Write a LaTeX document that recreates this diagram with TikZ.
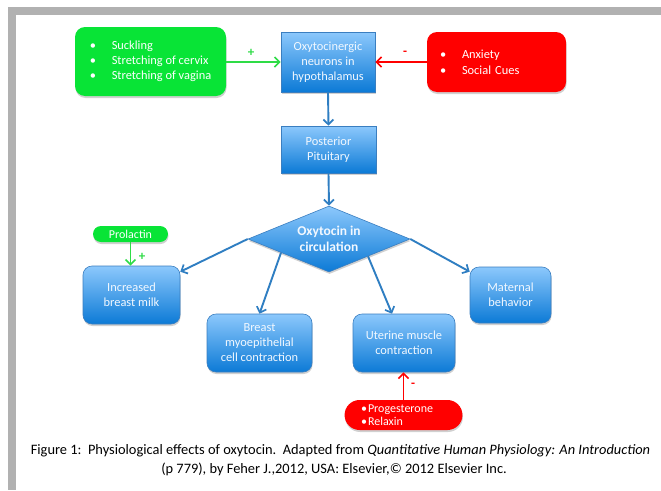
\documentclass[tikz,border=0pt]{standalone}
\usepackage{fontspec}
\setmainfont{Carlito}
\usetikzlibrary{shapes.geometric,shapes.misc,arrows.meta,calc,shadows}
\definecolor{frame}{HTML}{B1B1B1}
\definecolor{bltop}{HTML}{8CC8FC}
\definecolor{blbot}{HTML}{0C7AD6}
\definecolor{bledge}{HTML}{3A7EC0}
\definecolor{arrblue}{HTML}{2F7EC2}
\definecolor{grn}{HTML}{08E436}
\definecolor{grnarr}{HTML}{2EDC46}
\definecolor{rd}{HTML}{FF0000}
\definecolor{boxtxt}{HTML}{F2F8FF}
\tikzset{
  shd/.style={drop shadow={shadow xshift=0.5pt,shadow yshift=-2pt,opacity=0.3,fill=black!60}},
  bluebox/.style={shd,draw=bledge,line width=0.6pt,top color=bltop,bottom color=blbot,text=boxtxt,align=center,inner sep=0pt,font=\fontsize{12.4}{15}\selectfont},
  rbluebox/.style={bluebox,rounded corners=9pt},
  greenbox/.style={shd,fill=grn,rounded corners=10pt,text=white,inner sep=0pt,font=\fontsize{12.4}{15}\selectfont},
  redbox/.style={shd,fill=rd,rounded corners=10pt,text=white,inner sep=0pt,font=\fontsize{12.4}{16}\selectfont},
  pill/.style={shd,rounded rectangle,text=white,inner sep=0pt},
  barr/.style={draw=arrblue,line width=1.9pt,-{Straight Barb[length=5pt,width=10pt,line width=1.7pt]}},
  garr/.style={draw=grnarr,line width=1.9pt,-{Straight Barb[length=5pt,width=10pt,line width=1.7pt]}},
  rarr/.style={draw=rd,line width=1.9pt,-{Straight Barb[length=5pt,width=10pt,line width=1.7pt]}},
  sign/.style={font=\fontsize{13}{14}\selectfont\bfseries,inner sep=0pt},
  captxt/.style={font=\fontsize{14.4}{16}\selectfont,inner sep=0pt},
}
\newcommand{\bul}{\makebox[22pt][l]{•}}
\begin{document}
\begin{tikzpicture}[x=1pt,y=-1pt]
\useasboundingbox (0,0) rectangle (661,490);
\fill[white] (0,0) rectangle (661,490);
% frame
\fill[frame] (8,7.3) rectangle (661,15.3);
\fill[frame] (8,7.3) rectangle (16,490);
% top row
\node[greenbox,minimum width=151pt,minimum height=69pt] (stim) at (150.5,61.5)
  {\begin{tabular}{@{}l@{}}\bul Suckling\\ \bul Stretching of cervix\\ \bul Stretching of vagina\end{tabular}};
\node[bluebox,minimum width=94pt,minimum height=60pt] (hyp) at (328,62)
  {Oxytocinergic\\ neurons in\\ hypothalamus};
\node[redbox,minimum width=139pt,minimum height=60pt,text width=113pt,inner xsep=13pt,align=left] (inh) at (496.5,62)
  {\bul Anxiety\\ \bul Social Cues};
\draw[garr] (stim.east |- hyp.west) -- (hyp.west);
\draw[rarr] (inh.west |- hyp.east) -- (hyp.east);
\node[sign,text=grnarr] (plus1) at (251,53) {+};
\node[sign,text=rd] (minus1) at (405,53) {-};
% pituitary
\node[bluebox,minimum width=95pt,minimum height=47pt] (pit) at (328.5,149.5) {Posterior\\ Pituitary};
\draw[barr] (hyp.south) -- (pit.north);
% diamond
\node[diamond,shd,draw=bledge,line width=0.6pt,top color=bltop,bottom color=blbot,text=boxtxt,align=center,inner sep=0pt,aspect=2.45,minimum width=162pt,minimum height=66pt,font=\fontsize{13.5}{16.5}\selectfont\bfseries] (dia) at (329,239) {Oxytocin in\\ circulation};
\draw[barr] (pit.south) -- (dia.north);
% effects
\node[rbluebox,minimum width=97pt,minimum height=58pt] (inc) at (131.5,295) {Increased\\ breast milk};
\node[rbluebox,minimum width=105pt,minimum height=58pt] (brs) at (259.5,343) {Breast\\ myoepithelial\\ cell contraction};
\node[rbluebox,minimum width=102pt,minimum height=58pt] (ut) at (404,343) {Uterine muscle\\ contraction};
\node[rbluebox,minimum width=81pt,minimum height=56pt] (mat) at (510.5,295) {Maternal\\ behavior};
\coordinate (incend) at ($(inc.north east)+(0,6)$);
\coordinate (utend) at ($(ut.north)+(-12,0)$);
\coordinate (matend) at ($(mat.north west)+(0,5)$);
\draw[barr] (dia.west) -- (incend);
\draw[barr] ($(dia.west)!0.41!(dia.south)$) -- (brs.north);
\draw[barr] ($(dia.south)!0.48!(dia.east)$) -- (utend);
\draw[barr] (dia.east) -- (matend);
% prolactin
\node[pill,fill=grn,minimum width=75pt,minimum height=16pt,font=\fontsize{12}{13}\selectfont] (pro) at (130.5,234) {Prolactin};
\draw[garr] (pro.south) -- (pro.south |- inc.north);
\node[sign,text=grnarr] (plus2) at (142,257) {+};
% progesterone
\node[pill,fill=rd,minimum width=109pt,minimum height=30pt,text width=85pt,inner xsep=12pt,align=left,font=\fontsize{12}{13.5}\selectfont] (prog) at (403.5,415)
  {\makebox[7pt][l]{•}Progesterone\\ \makebox[7pt][l]{•}Relaxin};
\draw[rarr] (prog.north) -- (prog.north |- ut.south);
\node[sign,text=rd] (minus2) at (413,385) {-};
% caption
\node[captxt] (cap1) at (340.5,451)
  {Figure 1:\ \ Physiological effects of oxytocin.\ \ Adapted from \textit{Quantitative Human Physiology: An Introduction}};
\node[captxt] (cap2) at (334,469)
  {(p 779), by Feher J.,2012, USA: Elsevier,© 2012 Elsevier Inc.};
\end{tikzpicture}
\end{document}
